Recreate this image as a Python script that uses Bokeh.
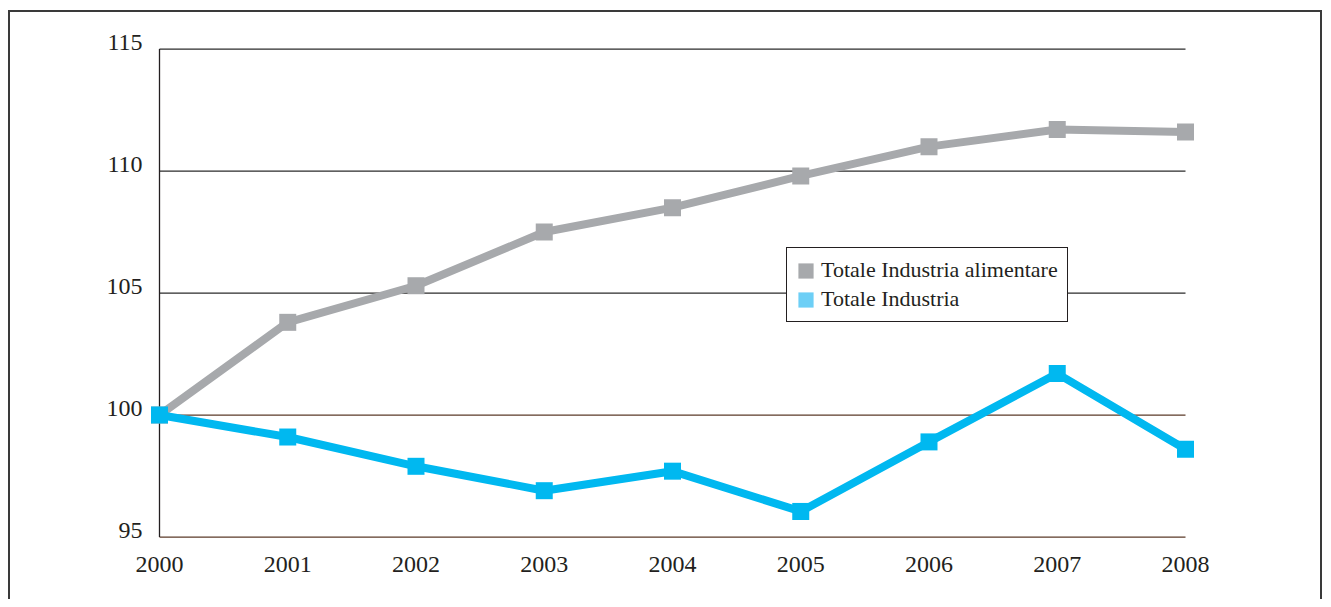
from bokeh.plotting import figure
from bokeh.models import (Range1d, FixedTicker, ColumnDataSource, Legend, LegendItem,
                          LinearAxis)
from bokeh.embed import file_html
from bokeh.resources import INLINE

years = [2000, 2001, 2002, 2003, 2004, 2005, 2006, 2007, 2008]
alimentare = [100.0, 103.8, 105.3, 107.5, 108.5, 109.8, 111.0, 111.7, 111.6]
industria = [100.0, 99.1, 97.9, 96.9, 97.7, 96.05, 98.9, 101.7, 98.6]
y_ticks = [95, 100, 105, 110, 115]
series_names = ["Totale Industria alimentare", "Totale Industria"]

FONT = "Liberation Serif"
TXT = "#231f20"
GRAY = "#a7a9ac"
BLUE = "#00b8f0"
BLUE_LEG = "#6dcff6"
BROWN = "#5b3a29"
FRAME = "#3a3a3a"

W, H = 1323, 599
FL, FT, FW, FH = 149, 40, 1046, 499
xpad = 10 / ((FW - 20) / 8.0)
ypad_lo, ypad_hi = 0.1, 0.35
label_shift = 0.25  # tick labels sit a little above their gridlines

p = figure(width=W, height=H, output_backend="svg", toolbar_location=None,
           x_range=Range1d(years[0] - xpad, years[-1] + xpad),
           y_range=Range1d(y_ticks[0] - ypad_lo, y_ticks[-1] + ypad_hi),
           y_axis_location=None,
           min_border_left=FL, min_border_right=W - FL - FW,
           min_border_top=FT, min_border_bottom=H - FT - FH)
p.extra_y_ranges = {"lab": Range1d(y_ticks[0] - ypad_lo - label_shift,
                                   y_ticks[-1] + ypad_hi - label_shift)}
# outer frame drawn as CSS background lines on the figure element
grad = f"linear-gradient({FRAME},{FRAME})"
p.styles = {
    "background-color": "white",
    "background-image": ", ".join([grad] * 3),
    "background-position": "8px 10px, 8px 10px, 1320px 10px",
    "background-size": "1314px 2px, 2px 620px, 2px 620px",
    "background-repeat": "no-repeat",
}
p.outline_line_color = None
p.background_fill_color = "white"
p.border_fill_alpha = 0
p.xgrid.visible = False
p.ygrid.visible = False

yax = LinearAxis(y_range_name="lab")
p.add_layout(yax, "left")

p.xaxis.ticker = FixedTicker(ticks=years)
yax.ticker = FixedTicker(ticks=y_ticks)
for ax in (p.xaxis[0], yax):
    ax.axis_line_color = None
    ax.major_tick_line_color = None
    ax.minor_tick_line_color = None
    ax.major_tick_in = 0
    ax.major_tick_out = 0
    ax.minor_tick_in = 0
    ax.minor_tick_out = 0
    ax.major_label_text_font = FONT
    ax.major_label_text_font_size = "24px"
    ax.major_label_text_color = TXT
yax.major_label_standoff = 7
p.xaxis.major_label_standoff = 17

# gridlines (from 2000 to 2008)
grid_colors = [BROWN if t <= 100 else "#2b2b2b" for t in y_ticks]
p.segment(x0=[years[0]] * len(y_ticks), x1=[years[-1]] * len(y_ticks),
          y0=y_ticks, y1=y_ticks, line_color=grid_colors, line_width=1.3)
# y axis line at 2000
p.segment(x0=[years[0]], x1=[years[0]], y0=[y_ticks[0]], y1=[y_ticks[-1]],
          line_color=TXT, line_width=1.3)

# series
p.line(years, alimentare, line_color=GRAY, line_width=8)
p.scatter(years, alimentare, marker="square", size=17, fill_color=GRAY, line_color=None)
p.line(years, industria, line_color=BLUE, line_width=8)
p.scatter(years, industria, marker="square", size=17, fill_color=BLUE, line_color=None)

# legend swatches (a single off-range quad each, only used for the legend)
off = ColumnDataSource(dict(left=[1990], right=[1990.1], top=[90], bottom=[89]))
q1 = p.quad(left="left", right="right", top="top", bottom="bottom", source=off,
            fill_color=GRAY, line_color=None)
q2 = p.quad(left="left", right="right", top="top", bottom="bottom", source=off,
            fill_color=BLUE_LEG, line_color=None)
legend = Legend(items=[LegendItem(label=series_names[0], renderers=[q1]),
                       LegendItem(label=series_names[1], renderers=[q2])],
                location=(637, 217))
legend.label_text_font = FONT
legend.label_text_font_size = "22px"
legend.label_text_color = TXT
legend.glyph_width = 19
legend.glyph_height = 19
legend.label_height = 19
legend.label_standoff = 6
legend.padding = 9
legend.spacing = 3
legend.margin = 0
legend.border_line_color = TXT
legend.border_line_alpha = 1
legend.border_line_width = 1.2
legend.background_fill_color = "white"
legend.background_fill_alpha = 1
p.add_layout(legend)

open("out.html", "w").write(file_html(p, INLINE))
